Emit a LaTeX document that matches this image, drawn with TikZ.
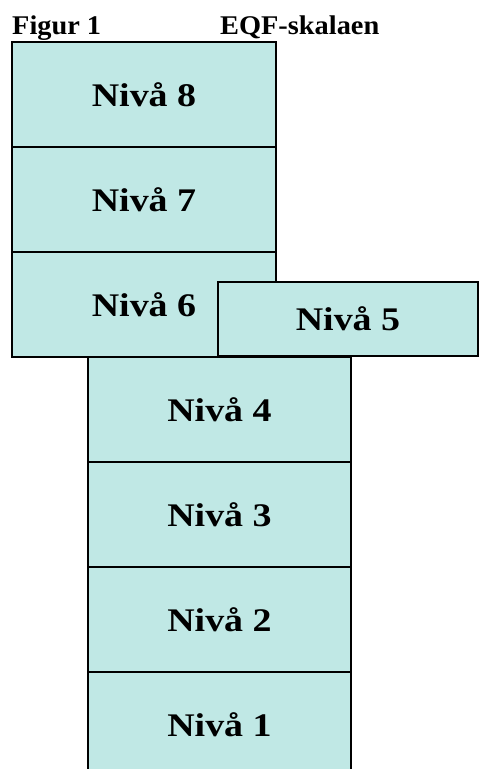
\documentclass[tikz,border=0pt]{standalone}
\usepackage{fontspec}
\setmainfont{Liberation Serif}
\newfontfamily\levelfont[FakeStretch=1.15]{Liberation Serif}
\newfontfamily\headfont[FakeStretch=1.05]{Liberation Serif}
\definecolor{levelfill}{RGB}{192,232,229}
\begin{document}
\begin{tikzpicture}[x=1pt,y=1pt,
  level/.style={draw=black,line width=1.4pt,fill=levelfill,rectangle,
    inner sep=0pt,font=\levelfont\fontsize{33}{33}\selectfont\bfseries},
  upper/.style={level,minimum width=264pt,minimum height=105pt},
  lower/.style={level,minimum width=263pt,minimum height=105pt},
  title/.style={font=\headfont\fontsize{27}{27}\selectfont\bfseries,anchor=base west,inner sep=0pt}]
\useasboundingbox (0,0) rectangle (479,769);
\begin{scope}
\clip (0,0) rectangle (479,769);
% upper column
\node[upper] (n8) at (144,674.5) {Nivå 8};
\node[upper] (n7) at (144,569.5) {Nivå 7};
\node[upper] (n6) at (144,464.5) {Nivå 6};
% level 5 sits over the right part of level 6
\node[level,minimum width=260pt,minimum height=74pt] (n5) at (348,450) {Nivå 5};
% lower column
\node[lower] (n4) at (219.5,359.5) {Nivå 4};
\node[lower] (n3) at (219.5,254.5) {Nivå 3};
\node[lower] (n2) at (219.5,149.5) {Nivå 2};
\node[lower] (n1) at (219.5,44.5) {Nivå 1};
\end{scope}
% heading
\node[title] (fig) at (12,734) {Figur 1};
\node[title] (eqf) at (220,734) {EQF-skalaen};
\end{tikzpicture}
\end{document}
